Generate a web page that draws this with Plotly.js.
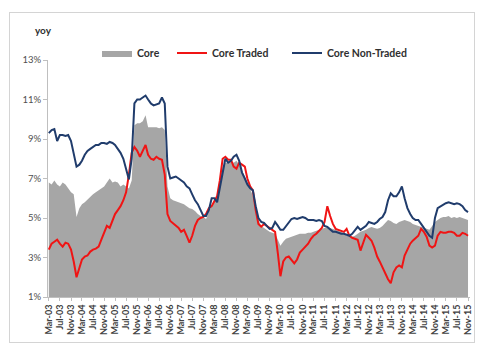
<!DOCTYPE html>
<html><head><meta charset="utf-8">
<script src="https://cdn.plot.ly/plotly-3.0.1.min.js"></script>
<style>
html,body{margin:0;padding:0;background:#fff;}
#frame{position:absolute;left:9px;top:12px;width:466px;height:331px;border:1px solid #d4d4d4;box-sizing:border-box;}
#chart{position:absolute;left:0;top:0;width:477px;height:345px;}
</style></head><body>
<div id="frame"></div>
<div id="chart"></div>
<script>
const startYear = 2003, startMonth = 3;

const core = [
6.8,6.7,6.9,6.7,6.6,6.8,6.7,6.5,6.3,6.2,
5.05,5.5,5.7,5.8,5.95,6.1,6.2,6.3,6.4,6.5,
6.6,6.8,7.0,6.8,6.85,6.8,6.6,6.7,6.6,6.5,
6.9,9.7,9.8,9.8,9.9,10.2,9.6,9.6,9.6,9.6,
9.55,9.6,9.45,6.6,6.0,5.9,5.85,5.8,5.75,5.7,
5.6,5.5,5.45,5.35,5.2,5.1,5.05,4.95,5.3,5.6,
5.9,6.1,6.8,7.6,7.8,7.8,7.9,7.8,7.9,7.7,
7.4,7.1,6.8,6.5,6.1,5.4,4.9,4.6,4.5,4.4,
4.3,4.25,4.2,3.9,3.6,3.8,3.95,4.0,4.05,4.1,
4.15,4.2,4.2,4.2,4.25,4.25,4.3,4.35,4.4,4.45,
4.5,4.55,4.5,4.45,4.4,4.35,4.3,4.2,4.1,4.05,
4.05,4.1,4.2,4.3,4.35,4.4,4.5,4.55,4.5,4.45,
4.5,4.6,4.75,4.9,4.85,4.75,4.7,4.8,4.85,4.9,
4.85,4.8,4.7,4.65,4.6,4.55,4.5,4.45,4.4,4.6,
4.8,4.9,5.0,5.05,5.05,5.1,5.0,5.05,5.0,5.05,
5.0,4.95,4.9
];

const coreTraded = [
3.4,3.7,3.8,3.9,3.7,3.55,3.75,3.7,3.4,2.8,
2.0,2.5,2.9,3.05,3.1,3.3,3.4,3.45,3.55,3.9,
4.3,4.6,4.5,4.9,5.2,5.4,5.6,5.9,6.3,7.2,
8.3,8.6,8.4,8.1,8.4,8.7,8.2,8.0,7.95,8.1,
8.0,7.95,7.2,5.2,4.85,4.75,4.6,4.5,4.3,4.4,
4.1,3.75,4.1,4.6,4.9,5.0,5.05,5.2,5.5,5.6,
5.85,6.1,6.9,8.0,8.1,7.95,7.95,7.6,7.5,7.8,
7.7,7.6,7.0,6.6,6.4,5.4,4.7,4.56,4.7,4.6,
4.5,4.4,4.3,3.2,2.05,2.8,3.0,3.05,2.9,2.7,
2.9,3.25,3.4,3.55,3.7,3.95,4.1,4.2,4.35,4.5,
4.8,5.6,5.1,4.7,4.45,4.4,4.35,4.3,4.45,4.1,
4.0,3.95,3.9,3.35,3.8,4.15,4.0,3.85,3.5,3.05,
2.8,2.5,2.2,1.9,1.7,2.25,2.5,2.6,2.5,3.1,
3.4,3.7,3.85,4.0,4.1,4.45,4.3,4.05,3.6,3.5,
3.6,4.1,4.3,4.25,4.25,4.3,4.3,4.25,4.1,4.1,
4.25,4.2,4.1
];

const coreNonTraded = [
9.3,9.45,9.5,8.9,9.2,9.2,9.15,9.2,8.9,8.2,
7.6,7.7,7.9,8.2,8.4,8.5,8.6,8.7,8.7,8.8,
8.8,8.75,8.85,8.8,8.7,8.5,8.3,8.0,7.4,6.95,
8.0,10.8,11.0,11.0,11.1,11.2,11.0,10.8,10.7,10.75,
10.8,11.1,10.8,7.6,7.0,7.05,7.1,7.0,6.9,6.8,
6.6,6.5,6.2,5.9,5.7,5.4,5.1,5.1,5.4,6.0,
6.0,5.8,6.6,7.4,8.0,7.8,7.9,8.1,8.2,7.9,
7.3,7.0,6.7,6.5,6.4,5.6,5.0,4.8,4.75,4.6,
4.45,4.5,4.8,4.6,4.4,4.4,4.6,4.8,4.95,5.0,
4.95,5.0,5.05,5.0,4.9,4.9,4.9,4.85,4.9,4.85,
4.6,4.55,4.4,4.3,4.3,4.25,4.2,4.2,4.15,4.1,
4.2,4.4,4.55,4.4,4.5,4.6,4.8,4.75,4.7,4.8,
4.95,5.05,5.3,5.9,6.25,6.1,6.1,6.3,6.6,6.0,
5.5,5.2,5.0,4.9,4.9,4.7,4.5,4.3,4.1,4.0,
5.0,5.5,5.6,5.7,5.75,5.8,5.75,5.7,5.75,5.7,
5.6,5.4,5.3
];

const xTickLabels = ["Mar-03","Jul-03","Nov-03","Mar-04","Jul-04","Nov-04","Mar-05","Jul-05","Nov-05",
"Mar-06","Jul-06","Nov-06","Mar-07","Jul-07","Nov-07","Mar-08","Jul-08","Nov-08","Mar-09","Jul-09","Nov-09",
"Mar-10","Jul-10","Nov-10","Mar-11","Jul-11","Nov-11","Mar-12","Jul-12","Nov-12","Mar-13","Jul-13","Nov-13",
"Mar-14","Jul-14","Nov-14","Mar-15","Jul-15","Nov-15"];
const yTickVals = [1,3,5,7,9,11,13];
const yTickLabels = ["1%","3%","5%","7%","9%","11%","13%"];
const seriesNames = ["Core","Core Traded","Core Non-Traded"];

function monthDate(i){
  const m = startMonth - 1 + i;
  const y = startYear + Math.floor(m / 12);
  const mm = (m % 12) + 1;
  return y + '-' + String(mm).padStart(2,'0') + '-01';
}
const dates = core.map((_, i) => monthDate(i));
const xTickVals = xTickLabels.map((_, k) => monthDate(4 * k));

const FONT = 'Lato, "Open Sans", sans-serif';
const legFont = {family: FONT, size: 10.5, color: '#303030', weight: 'bold'};
function leg(x){ return {orientation: 'h', x: x, y: 1.03, xanchor: 'left', yanchor: 'middle',
                         font: legFont, bgcolor: 'rgba(0,0,0,0)'}; }

const traces = [
  {x: dates, y: core, name: seriesNames[0], type: 'scatter', mode: 'lines', legend: 'legend',
   fill: 'tozeroy', fillcolor: '#a6a6a6', line: {width: 0, color: '#a6a6a6'}},
  {x: dates, y: coreTraded, name: seriesNames[1], type: 'scatter', mode: 'lines', legend: 'legend2',
   line: {width: 2, color: '#f01414'}},
  {x: dates, y: coreNonTraded, name: seriesNames[2], type: 'scatter', mode: 'lines', legend: 'legend3',
   line: {width: 2, color: '#203c6c'}}
];

const layout = {
  width: 477, height: 345,
  margin: {l: 48, r: 7, t: 60, b: 48, pad: 0},
  paper_bgcolor: 'rgba(0,0,0,0)', plot_bgcolor: 'rgba(0,0,0,0)',
  font: {family: FONT, size: 8, color: '#404040'},
  showlegend: true,
  legend: leg((97 - 48) / 422),
  legend2: leg((172 - 48) / 422),
  legend3: leg((287 - 48) / 422),
  xaxis: {type: 'date', range: ['2003-02-20', '2015-11-23'],
          tickmode: 'array', tickvals: xTickVals, ticktext: xTickLabels,
          tickangle: -90, tickfont: {family: FONT, size: 9, color: '#404040', weight: 'bold'},
          showgrid: false, zeroline: false, showline: true, linecolor: '#bfbfbf', linewidth: 1,
          ticks: 'outside', ticklen: 3, tickcolor: '#bfbfbf', fixedrange: true},
  yaxis: {range: [1, 13], tickmode: 'array', tickvals: yTickVals, ticktext: yTickLabels,
          tickfont: {family: FONT, size: 9.5, color: '#505050'},
          showgrid: false, zeroline: false, showline: true, linecolor: '#bfbfbf', linewidth: 1,
          ticks: 'outside', ticklen: 4, tickcolor: '#bfbfbf', fixedrange: true},
  annotations: [{text: 'yoy', xref: 'paper', yref: 'paper', x: (33 - 48) / 422, y: 1.125,
                 xanchor: 'left', yanchor: 'middle', showarrow: false,
                 font: {family: FONT, size: 10, color: '#303030', weight: 'bold'}}]
};

Plotly.newPlot('chart', traces, layout, {displayModeBar: false, staticPlot: true});
</script>
</body></html>
